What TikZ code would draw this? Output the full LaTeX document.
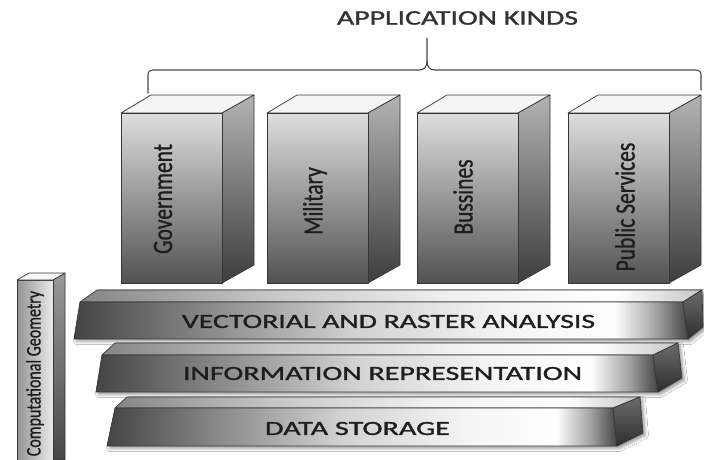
\documentclass[tikz,border=0pt]{standalone}
\usepackage{fontspec}
\setmainfont{Carlito}
\newfontfamily\labelfont{Carlito}[FakeBold=1.0]
\newfontfamily\capsfont{Carlito}[FakeBold=1.1]
\usepackage{graphicx}
\usetikzlibrary{shadows.blur}

\definecolor{edgecol}{HTML}{363636}
\definecolor{inkcol}{HTML}{1E1E1E}
\definecolor{slabdark}{HTML}{444444}
\definecolor{slabmid}{HTML}{8A8A8A}
\definecolor{slablight}{HTML}{D2D2D2}
\definecolor{slabpale}{HTML}{F4F4F4}
\definecolor{slabend}{HTML}{A0A0A0}
\definecolor{topdark}{HTML}{858585}
\definecolor{topmid}{HTML}{C6C6C6}
\definecolor{toppale}{HTML}{F0F0F0}

% metallic left-to-right shading of the layer fronts (25bp..75bp spans the face)
\pgfdeclarehorizontalshading{slabfront}{100bp}{%
  color(0bp)=(slabdark); color(25bp)=(slabdark); color(36bp)=(slabmid);%
  color(48bp)=(slablight); color(60bp)=(slabpale); color(69bp)=(white);%
  color(72.5bp)=(slabend); color(75bp)=(slabdark); color(100bp)=(slabdark)}
\pgfdeclarehorizontalshading{slabtop}{100bp}{%
  color(0bp)=(topdark); color(25bp)=(topdark); color(40bp)=(topmid);%
  color(55bp)=(toppale); color(68bp)=(white); color(75bp)=(topmid); color(100bp)=(topmid)}
% side faces of the columns: lighter strip next to the front edge
\pgfdeclarehorizontalshading{boxsideshade}{100bp}{%
  color(0bp)=(black!30); color(25bp)=(black!30); color(40bp)=(black!45);%
  color(75bp)=(black!62); color(100bp)=(black!62)}

\tikzset{
  faceedge/.style={draw=edgecol, line width=0.7pt, line join=round},
  boxfront/.style={faceedge, top color=black!13, bottom color=black!68},
  boxside/.style={faceedge, top color=black!30, bottom color=black!76},
  boxtop/.style={faceedge, fill=black!4},
  slabfrontface/.style={faceedge, shade, shading=slabfront},
  slabtopface/.style={faceedge, shade, shading=slabtop},
  slabsideface/.style={faceedge, top color=black!58, bottom color=black!82},
  slabshadow/.style={fill=white, blur shadow={shadow xshift=2.5pt, shadow yshift=-2.5pt,
      shadow blur radius=3pt, shadow opacity=40}},
  pillarfront/.style={faceedge, left color=black!42, right color=black!8},
  pillarside/.style={faceedge, top color=black!40, bottom color=black!72},
  boxlabel/.style={text=inkcol, font=\labelfont\fontsize{21.5}{22}\selectfont, rotate=90, inner sep=0pt},
  pillarlabel/.style={text=inkcol, font=\labelfont\fontsize{16}{16}\selectfont, rotate=90, inner sep=0pt},
  capslabel/.style={text=inkcol, font=\capsfont, inner sep=0pt},
  bracecurve/.style={draw=black!72, line width=1.1pt, line cap=round, line join=round},
}

% one application column: #1 left x of the front face, #2 node name,
% #3 label x offset, #4 label y, #5 label text
\newcommand{\appbox}[5]{%
  \begin{scope}[shift={(#1,0)}]
    \path[boxtop] (0,113) -- (30,95) -- (133,95) -- (101,113) -- cycle;
    \path[boxside] (101,113) -- (133,95) -- (133,265) -- (101,283) -- cycle;
    \path[boxfront] (0,113) rectangle (101,283);
    \node[boxlabel] (#2) at (#3,#4) {\scalebox{1}[1.3]{#5}};
  \end{scope}}

\begin{document}
\begin{tikzpicture}[x=1pt, y=-1pt]
  \useasboundingbox[fill=white] (0,0) rectangle (704,459);

  % title and brace
  \node[capslabel, text=black!80] (title) at (457.5,18)
    {\resizebox{241pt}{13.5pt}{APPLICATION KINDS}};
  \coordinate (braceL) at (148,93);
  \coordinate (braceR) at (701,90);
  \coordinate (braceTip) at (427,38);
  \draw[bracecurve] (braceL) -- (148,75) .. controls (148,71.5) and (150,70) .. (153,70)
    -- (419,70) .. controls (424,70) and (427,67) .. (427,61) -- (braceTip);
  \draw[bracecurve] (427,61) .. controls (427,67) and (430,70) .. (435,70)
    -- (696,70) .. controls (699,70) and (701,71.5) .. (701,75) -- (braceR);

  % application columns
  \appbox{121}{gov}{42}{199}{Government}
  \appbox{267}{mil}{48}{201}{Military}
  \appbox{417}{bus}{46}{197}{Bussines}
  \appbox{568}{pub}{57}{207}{Public Services}

  % layer 1: vectorial and raster analysis
  \path[slabshadow] (97,290) -- (702,290) -- (703,327) -- (688,339) -- (74,339) -- (80,302) -- cycle;
  \path[slabtopface] (97,290) -- (702,290) -- (683,302) -- (80,302) -- cycle;
  \path[slabfrontface] (80,302) -- (683,302) -- (688,339) -- (74,339) -- cycle;
  \path[slabsideface] (683,302) -- (702,290) -- (703,327) -- (688,339) -- cycle;
  \node[capslabel] (vra) at (388.5,321.5)
    {\resizebox{413pt}{13pt}{VECTORIAL AND RASTER ANALYSIS}};

  % layer 2: information representation
  \path[slabshadow] (115,343) -- (678,343) -- (682,378) -- (658,392) -- (96,392) -- (102,355) -- cycle;
  \path[slabtopface] (115,343) -- (678,343) -- (653,355) -- (102,355) -- cycle;
  \path[slabfrontface] (102,355) -- (653,355) -- (658,392) -- (96,392) -- cycle;
  \path[slabsideface] (653,355) -- (678,343) -- (682,378) -- (658,392) -- cycle;
  \node[capslabel] (inf) at (382.5,373.5)
    {\resizebox{399pt}{13pt}{INFORMATION REPRESENTATION}};

  % layer 3: data storage
  \path[slabshadow] (127,397) -- (640,397) -- (643,433) -- (617,446) -- (107,446) -- (115,408) -- cycle;
  \path[slabtopface] (127,397) -- (640,397) -- (613,408) -- (115,408) -- cycle;
  \path[slabfrontface] (115,408) -- (613,408) -- (617,446) -- (107,446) -- cycle;
  \path[slabsideface] (613,408) -- (640,397) -- (643,433) -- (617,446) -- cycle;
  \node[capslabel] (dat) at (357.5,428.5)
    {\resizebox{185pt}{13pt}{DATA STORAGE}};

  % computational geometry pillar
  \path[pillarside] (53,280) -- (65,273) -- (65,460) -- (53,460) -- cycle;
  \path[pillarfront] (17,280) rectangle (53,460);
  \path[boxtop] (17,280) -- (29,273) -- (65,273) -- (53,280) -- cycle;
  \node[pillarlabel] (geo) at (35,373.5) {\scalebox{1}[1.3]{Computational Geometry}};
\end{tikzpicture}
\end{document}
